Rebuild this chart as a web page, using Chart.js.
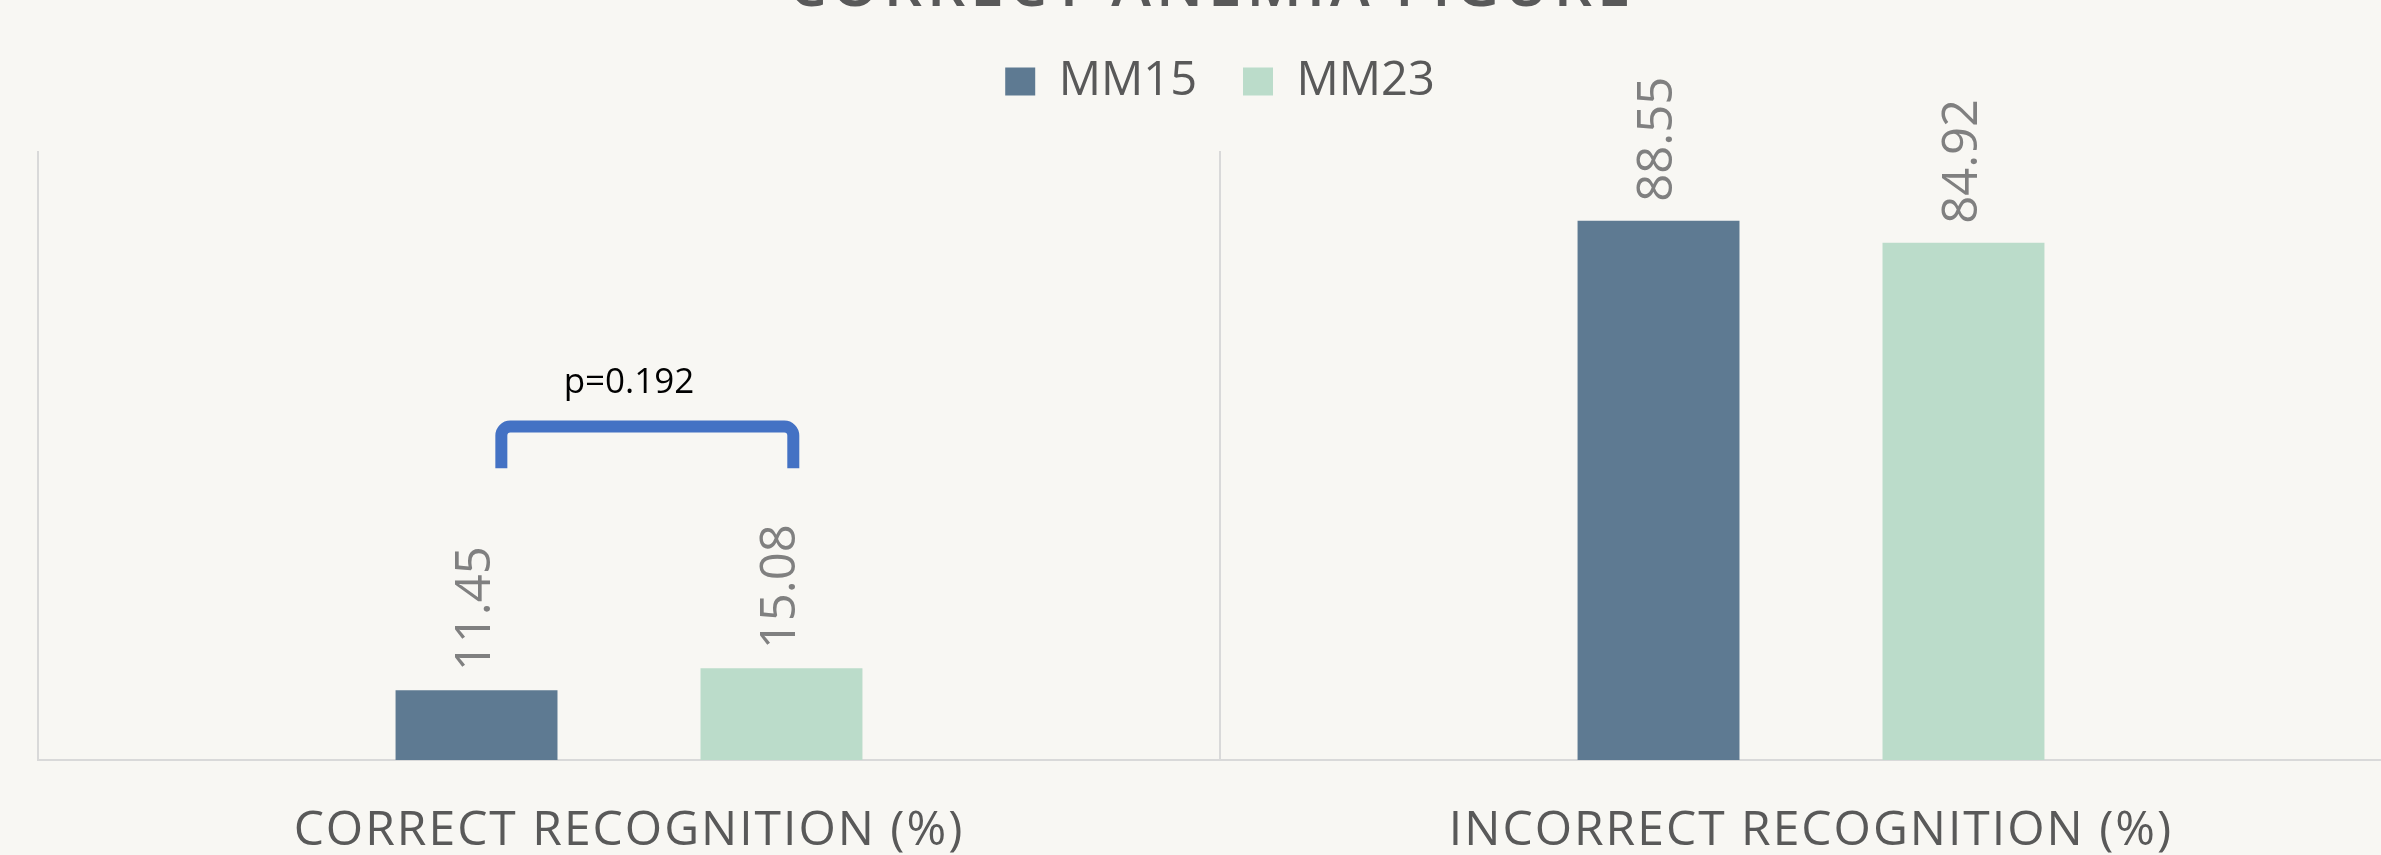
<!DOCTYPE html>
<html><head><meta charset="utf-8">
<script src="https://cdn.jsdelivr.net/npm/chart.js@4/dist/chart.umd.min.js"></script>
<style>html,body{margin:0;padding:0;background:#F8F7F3;overflow:hidden;width:2381px;height:855px}canvas{display:block}</style>
</head><body>
<canvas id="c" width="2402" height="855"></canvas>
<script>
// ---- data ----
const chartTitle = 'CORRECT ANEMIA FIGURE';
const categories = ['CORRECT RECOGNITION (%)', 'INCORRECT RECOGNITION (%)'];
const seriesNames = ['MM15', 'MM23'];
const mm15Values = [11.45, 88.55];
const mm23Values = [15.08, 84.92];
const pValueText = 'p=0.192';

// ---- styling / annotation placement (in scale units) ----
const seriesColors = ['#5E7A92', '#BBDCCA'];
const bracketXIdx = [-0.108, 0.139];   // category-index positions of the bracket legs
const bracketLegBottomVal = 47.9;
const bracketTopVal = 54.75;
const pLabelIdx = 0;
const pLabelVal = 60.3;

const FONT = '"Open Sans", "DejaVu Sans", sans-serif';

const decorPlugin = {
  id: 'decor',
  beforeLayout(chart) {
    const L = chart.legend;
    if (L && !L._hPatched) {
      const f = L.fit.bind(L);
      L.fit = function () { f(); this.height += 36; };
      L._hPatched = true;
    }
  },
  beforeDraw(chart) {
    const xs = chart.scales.x;
    if (!xs._lsPatched) {
      const orig = xs.drawLabels.bind(xs);
      xs.drawLabels = function (area) {
        const ctx = this.ctx;
        ctx.save();
        ctx.letterSpacing = '2px';
        orig(area);
        ctx.restore();
      };
      xs._lsPatched = true;
    }
  },
  afterDatasetsDraw(chart) {
    const { ctx, scales: { x, y } } = chart;
    // value labels, rotated
    chart.data.datasets.forEach((ds, di) => {
      const meta = chart.getDatasetMeta(di);
      meta.data.forEach((bar, i) => {
        const v = ds.data[i];
        ctx.save();
        ctx.translate(bar.x, bar.y - 19);
        ctx.rotate(-Math.PI / 2);
        ctx.font = '49px ' + FONT;
        ctx.fillStyle = '#808080';
        ctx.textAlign = 'left';
        ctx.textBaseline = 'middle';
        ctx.fillText(v.toFixed(2), 0, 0);
        ctx.restore();
      });
    });
    // significance bracket
    const xL = x.getPixelForValue(bracketXIdx[0]);
    const xR = x.getPixelForValue(bracketXIdx[1]);
    const yB = y.getPixelForValue(bracketLegBottomVal);
    const yT = y.getPixelForValue(bracketTopVal);
    const r = 9;
    ctx.save();
    ctx.strokeStyle = '#4472C4';
    ctx.lineWidth = 12;
    ctx.lineCap = 'butt';
    ctx.lineJoin = 'round';
    ctx.beginPath();
    ctx.moveTo(xL, yB);
    ctx.lineTo(xL, yT + r);
    ctx.arcTo(xL, yT, xL + r, yT, r);
    ctx.lineTo(xR - r, yT);
    ctx.arcTo(xR, yT, xR, yT + r, r);
    ctx.lineTo(xR, yB);
    ctx.stroke();
    ctx.restore();
    // p-value
    ctx.save();
    ctx.font = '35px ' + FONT;
    ctx.fillStyle = '#000000';
    ctx.textAlign = 'center';
    ctx.textBaseline = 'alphabetic';
    ctx.fillText(pValueText, x.getPixelForValue(pLabelIdx), y.getPixelForValue(pLabelVal));
    ctx.restore();
    // title (mostly cropped at the top edge as in the reference)
    ctx.save();
    ctx.font = '600 60px ' + FONT;
    ctx.letterSpacing = '5px';
    ctx.fillStyle = '#595959';
    ctx.textAlign = 'center';
    ctx.textBaseline = 'alphabetic';
    ctx.fillText(chartTitle, 1212, 6);
    ctx.restore();
  }
};

new Chart(document.getElementById('c'), {
  type: 'bar',
  data: {
    labels: categories,
    datasets: [
      { label: seriesNames[0], data: mm15Values, backgroundColor: seriesColors[0], borderWidth: 0,
        categoryPercentage: 0.516, barPercentage: 0.531 },
      { label: seriesNames[1], data: mm23Values, backgroundColor: seriesColors[1], borderWidth: 0,
        categoryPercentage: 0.516, barPercentage: 0.531 }
    ]
  },
  options: {
    responsive: false,
    animation: false,
    devicePixelRatio: 1,
    layout: { padding: { left: 38, right: 0, top: 12, bottom: 0 } },
    plugins: {
      legend: {
        position: 'top',
        labels: { boxWidth: 30, boxHeight: 28, padding: 46, color: '#595959',
                  font: { family: FONT, size: 47 } }
      },
      tooltip: { enabled: false },
      title: { display: false }
    },
    scales: {
      x: {
        grid: { display: true, offset: true, color: '#D9D9D9', lineWidth: 2, drawTicks: false },
        border: { display: true, color: '#D9D9D9', width: 2 },
        ticks: { color: '#595959', font: { family: FONT, size: 48 }, padding: 43, maxRotation: 0 },
        afterFit(s) { s.height = 95; }
      },
      y: { display: false, min: 0, max: 100 }
    }
  },
  plugins: [decorPlugin]
});
</script>
</body></html>
